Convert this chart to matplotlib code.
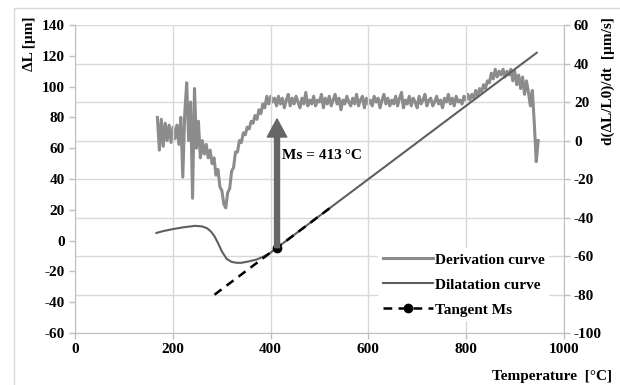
import numpy as np
import matplotlib
matplotlib.use("Agg")
import matplotlib.pyplot as plt
from matplotlib.patches import Rectangle

# derivation curve, right axis [um/s], sampled every 4 degC from 168 degC
deriv_start, deriv_step = 168, 4
deriv_rate = [
    12, -5, 11, -3, 9, 0, 8, -1, 7, 1,           # 168
    8, -2, 12, -19, 14, 30, 0, 20, -30, 27,      # 208
    -4, 10, -9, 0, -7, -2, -9, -5, -12, -9,      # 248
    -18, -15, -24, -26, -33, -35, -27, -25, -16, -14,  # 288
    -6, -6, 0, -1, 4, 3, 7, 6, 10, 9,            # 328
    13, 11, 16, 14, 19, 17, 23, 19, 23, 20,      # 368
    22, 18, 23, 19, 22, 17, 21, 24, 18, 22,      # 408
    19, 23, 20, 17, 22, 19, 25, 18, 21, 19,      # 448
    23, 18, 21, 20, 24, 17, 22, 19, 23, 18,      # 488
    21, 24, 19, 22, 16, 21, 19, 23, 20, 18,      # 528
    22, 19, 24, 18, 21, 23, 17, 22, 19, 21,      # 568
    18, 23, 20, 22, 17, 21, 24, 19, 22, 18,      # 608
    21, 19, 23, 18, 22, 25, 17, 21, 19, 23,      # 648
    18, 22, 20, 17, 23, 19, 21, 24, 18, 21,      # 688
    22, 18, 20, 23, 19, 21, 17, 22, 20, 24,      # 728
    19, 22, 18, 23, 20, 21, 19, 23, 21, 24,      # 768
    21, 24, 22, 26, 23, 27, 25, 29, 27, 31,      # 808
    30, 35, 32, 37, 33, 36, 34, 37, 33, 36,      # 848
    34, 37, 31, 36, 29, 34, 27, 33, 24, 31,      # 888
    25, 18, 26, 9, -11, 0,                       # 928
]
deriv_temp = deriv_start + deriv_step * np.arange(len(deriv_rate))

# dilatation curve, left axis [um]
dil_temp = [166, 180, 200, 220, 245, 260, 270, 278, 285, 292, 300, 310, 320, 330,
            340, 355, 371, 385, 399, 413, 500, 600, 700, 800, 900, 945]
dil_len = [5.0, 6.2, 7.5, 8.6, 9.6, 9.2, 8.0, 5.8, 2.8, -1.5, -7.0, -11.9, -13.8, -14.4,
           -14.4, -13.5, -12.3, -10.4, -8.0, -4.6, 16.1, 39.9, 63.7, 87.5, 111.3, 122.0]

# tangent at Ms
tan_temp = [285, 413, 530]
tan_len = [-35.1, -4.6, 23.2]
ms_temp = 413
arrow_top = 79

plt.rcParams['font.family'] = ['Liberation Serif', 'DejaVu Serif']
plt.rcParams['font.weight'] = 'bold'
plt.rcParams['axes.unicode_minus'] = False

fig = plt.figure(figsize=(6.2, 3.85), dpi=100)
fig.patches.append(Rectangle((14 / 620, -0.1), 1.2, 0.979 + 0.1, transform=fig.transFigure,
                             fill=False, edgecolor='#d9d9d9', lw=1))

ax = fig.add_axes([0.1216, 0.135, 0.7874, 0.80])
ax2 = ax.twinx()
ax.set_zorder(ax2.get_zorder() + 1)
ax.patch.set_visible(False)

grid_c = '#d9d9d9'
spine_c = '#bfbfbf'

ax2.plot(deriv_temp, deriv_rate, color='#8c8c8c', lw=2.2, label='Derivation curve')
ax.plot(dil_temp, dil_len, color='#5f5f5f', lw=1.5, label='Dilatation curve')

ax.annotate('', xy=(ms_temp, arrow_top), xytext=(ms_temp, tan_len[1]),
            arrowprops=dict(facecolor='#666666', edgecolor='#666666', width=3.6,
                            headwidth=14, headlength=13, shrink=0))
ax.plot(tan_temp, tan_len, color='black', lw=1.8, ls=(0, (3.5, 2.5)), marker='o',
        markersize=6, markevery=[1], label='Tangent Ms')
ax.text(423, 55, 'Ms = 413\u2009\u00b0C', fontsize=11, fontweight='bold', va='center', ha='left')

ax.set_xlim(0, 1000)
ax.set_ylim(-60, 140)
ax2.set_ylim(-100, 60)
ax.set_xticks(np.arange(0, 1001, 200))
ax.set_yticks(np.arange(-60, 141, 20))
ax2.set_yticks(np.arange(-100, 61, 20))

ax.grid(axis='x', color=grid_c, lw=1)
ax2.grid(axis='y', color=grid_c, lw=1)
ax.set_axisbelow(True)
ax2.set_axisbelow(True)

for a in (ax, ax2):
    a.spines['top'].set_visible(False)
    for s in ('left', 'right', 'bottom'):
        a.spines[s].set_color(spine_c)
    a.tick_params(colors=spine_c, labelcolor='black', labelsize=11, length=4, width=1)
ax.spines['right'].set_visible(False)
ax2.spines['left'].set_visible(False)
ax2.spines['bottom'].set_visible(False)
for lab in ax.get_xticklabels() + ax.get_yticklabels() + ax2.get_yticklabels():
    lab.set_fontweight('bold')

h1, l1 = ax2.get_legend_handles_labels()
h2, l2 = ax.get_legend_handles_labels()
leg = ax.legend(h1 + h2, l1 + l2, loc='upper left', bbox_to_anchor=(0.605, 0.30),
                frameon=True, facecolor='white', edgecolor='none', framealpha=1,
                fontsize=11, handlelength=3.3, handletextpad=0.1, labelspacing=0.75,
                borderpad=0.3)
for t in leg.get_texts():
    t.set_fontweight('bold')

fig.text(0.048, 0.956, '\u0394L [\u00b5m]', rotation=90, ha='center', va='top',
         fontsize=11, fontweight='bold')
fig.text(0.981, 0.956, 'd(\u0394L/L0)/dt  [\u00b5m/s]', rotation=90, ha='center', va='top',
         fontsize=11, fontweight='bold')
fig.text(0.987, 0.021, 'Temperature  [\u00b0C]', ha='right', va='center',
         fontsize=11, fontweight='bold')

fig.savefig('out.png', dpi=100, facecolor='white')
